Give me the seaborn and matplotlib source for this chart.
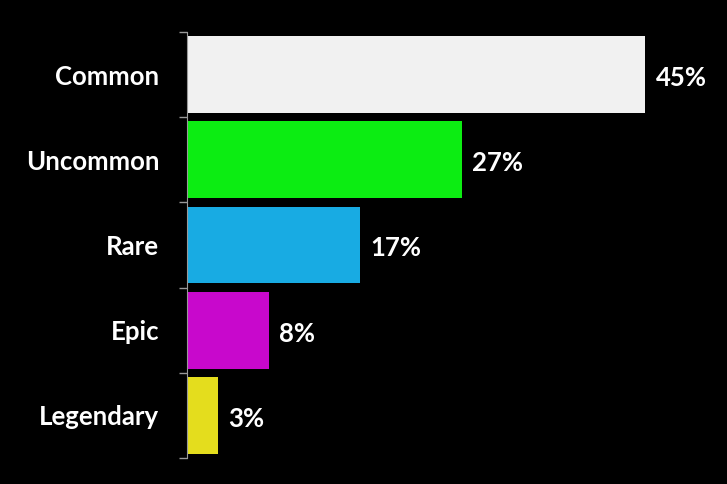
import numpy as np
import pandas as pd
import seaborn as sns
import matplotlib.pyplot as plt

# rarity distribution
rarities = ['Common', 'Uncommon', 'Rare', 'Epic', 'Legendary']
shares = [45, 27, 17, 8, 3]
bar_colors = ['#f1f1f1', '#0ced12', '#18abe3', '#c808cc', '#e4dd1d']

df = pd.DataFrame({'rarity': rarities, 'share': shares})

sns.set_theme(style='white')
plt.rcParams['font.family'] = ['Lato', 'DejaVu Sans']
plt.rcParams['font.weight'] = 'bold'

fig = plt.figure(figsize=(7.27, 4.84), dpi=100, facecolor='black')
ax = fig.add_axes([187 / 727, 1 - 458 / 484, 1 - 187 / 727, 426 / 484])
ax.set_facecolor('black')

sns.barplot(data=df, x='share', y='rarity', hue='rarity', palette=bar_colors,
            legend=False, width=0.9, saturation=1, linewidth=0, ax=ax)

for i, v in enumerate(shares):
    ax.text(v + 1.0, i + 0.04, f'{v}%', va='center', ha='left', color='white',
            fontsize=18.5, fontweight='bold')

ax.set_xlim(0, 53)
ax.set_ylim(len(rarities) - 0.5, -0.5)
ax.set_xlabel('')
ax.set_ylabel('')
ax.set_xticks([])

# ticks sit on the boundaries between bars, labels in the middle
ax.set_yticks(np.arange(-0.5, len(rarities), 1.0))
ax.set_yticklabels([])
ax.set_yticks(np.arange(len(rarities)), labels=rarities, minor=True)
ax.tick_params(axis='y', which='major', length=6, width=1, color='#999999', left=True)
ax.tick_params(axis='y', which='minor', length=0, pad=20, labelsize=18.5, labelcolor='white')
for lbl in ax.get_yticklabels(minor=True):
    lbl.set_fontweight('bold')

for side in ['top', 'right', 'bottom']:
    ax.spines[side].set_visible(False)
ax.spines['left'].set_color('#999999')
ax.spines['left'].set_linewidth(0.8)

fig.savefig('out.png', dpi=100, facecolor='black')
